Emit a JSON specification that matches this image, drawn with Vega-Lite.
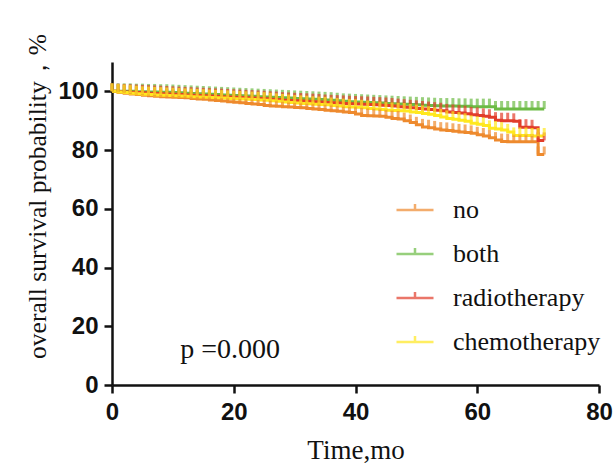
{
  "$schema": "https://vega.github.io/schema/vega-lite/v6.json",
  "width": 487,
  "height": 323,
  "autosize": {"type": "none"},
  "padding": {"left": 112, "top": 62, "right": 17, "bottom": 85},
  "background": "white",
  "config": {"view": {"stroke": null}, "axis": {"grid": false}},
  "datasets": {
    "km": [
      {"g":"no","t":0,"s":100},{"g":"no","t":1,"s":99.7},{"g":"no","t":2,"s":99.4},{"g":"no","t":3,"s":99.1},{"g":"no","t":4,"s":98.9},{"g":"no","t":5,"s":98.7},{"g":"no","t":6,"s":98.5},{"g":"no","t":7,"s":98.3},{"g":"no","t":8,"s":98.2},{"g":"no","t":9,"s":98.1},{"g":"no","t":10,"s":98.0},
      {"g":"no","t":11,"s":97.9},{"g":"no","t":12,"s":97.8},{"g":"no","t":13,"s":97.6},{"g":"no","t":14,"s":97.4},{"g":"no","t":15,"s":97.3},{"g":"no","t":16,"s":97.1},{"g":"no","t":17,"s":96.9},{"g":"no","t":18,"s":96.7},{"g":"no","t":19,"s":96.5},{"g":"no","t":20,"s":96.3},
      {"g":"no","t":21,"s":96.1},{"g":"no","t":22,"s":95.9},{"g":"no","t":23,"s":95.7},{"g":"no","t":24,"s":95.5},{"g":"no","t":25,"s":95.2},{"g":"no","t":26,"s":95.0},{"g":"no","t":27,"s":94.9},{"g":"no","t":28,"s":94.8},{"g":"no","t":29,"s":94.7},{"g":"no","t":30,"s":94.5},
      {"g":"no","t":31,"s":94.4},{"g":"no","t":32,"s":94.2},{"g":"no","t":33,"s":94.0},{"g":"no","t":34,"s":93.8},{"g":"no","t":35,"s":93.6},{"g":"no","t":36,"s":93.4},{"g":"no","t":37,"s":93.2},{"g":"no","t":38,"s":93.0},{"g":"no","t":39,"s":92.8},{"g":"no","t":40,"s":92.3},
      {"g":"no","t":41,"s":91.8},{"g":"no","t":42,"s":91.7},{"g":"no","t":43,"s":91.6},{"g":"no","t":44,"s":91.5},{"g":"no","t":45,"s":91.2},{"g":"no","t":46,"s":90.8},{"g":"no","t":47,"s":90.6},{"g":"no","t":48,"s":90.0},{"g":"no","t":49,"s":89.4},{"g":"no","t":50,"s":88.6},
      {"g":"no","t":51,"s":87.9},{"g":"no","t":52,"s":87.6},{"g":"no","t":53,"s":87.2},{"g":"no","t":54,"s":86.8},{"g":"no","t":55,"s":86.7},{"g":"no","t":56,"s":86.4},{"g":"no","t":57,"s":86.2},{"g":"no","t":58,"s":86.0},{"g":"no","t":59,"s":85.7},{"g":"no","t":60,"s":85.2},
      {"g":"no","t":61,"s":84.8},{"g":"no","t":62,"s":84.2},{"g":"no","t":63,"s":83.4},{"g":"no","t":64,"s":82.9},{"g":"no","t":65,"s":82.8},{"g":"no","t":66,"s":82.8},{"g":"no","t":67,"s":82.8},{"g":"no","t":68,"s":82.8},{"g":"no","t":69,"s":82.8},{"g":"no","t":70,"s":78.5},{"g":"no","t":71,"s":78.5},

      {"g":"both","t":0,"s":100},{"g":"both","t":1,"s":100},{"g":"both","t":2,"s":100},{"g":"both","t":3,"s":100},{"g":"both","t":4,"s":99.9},{"g":"both","t":5,"s":99.9},{"g":"both","t":6,"s":99.8},{"g":"both","t":7,"s":99.8},{"g":"both","t":8,"s":99.7},{"g":"both","t":9,"s":99.7},{"g":"both","t":10,"s":99.6},
      {"g":"both","t":11,"s":99.5},{"g":"both","t":12,"s":99.4},{"g":"both","t":13,"s":99.3},{"g":"both","t":14,"s":99.2},{"g":"both","t":15,"s":99.1},{"g":"both","t":16,"s":99.0},{"g":"both","t":17,"s":98.9},{"g":"both","t":18,"s":98.8},{"g":"both","t":19,"s":98.7},{"g":"both","t":20,"s":98.6},
      {"g":"both","t":21,"s":98.5},{"g":"both","t":22,"s":98.4},{"g":"both","t":23,"s":98.3},{"g":"both","t":24,"s":98.2},{"g":"both","t":25,"s":98.1},{"g":"both","t":26,"s":98.0},{"g":"both","t":27,"s":97.9},{"g":"both","t":28,"s":97.8},{"g":"both","t":29,"s":97.7},{"g":"both","t":30,"s":97.6},
      {"g":"both","t":31,"s":97.5},{"g":"both","t":32,"s":97.4},{"g":"both","t":33,"s":97.3},{"g":"both","t":34,"s":97.2},{"g":"both","t":35,"s":97.1},{"g":"both","t":36,"s":97.0},{"g":"both","t":37,"s":96.8},{"g":"both","t":38,"s":96.6},{"g":"both","t":39,"s":96.5},{"g":"both","t":40,"s":96.4},
      {"g":"both","t":41,"s":96.3},{"g":"both","t":42,"s":96.2},{"g":"both","t":43,"s":96.1},{"g":"both","t":44,"s":96.0},{"g":"both","t":45,"s":95.9},{"g":"both","t":46,"s":95.8},{"g":"both","t":47,"s":95.7},{"g":"both","t":48,"s":95.6},{"g":"both","t":49,"s":95.5},{"g":"both","t":50,"s":95.4},
      {"g":"both","t":51,"s":95.3},{"g":"both","t":52,"s":95.2},{"g":"both","t":53,"s":95.1},{"g":"both","t":54,"s":95.0},{"g":"both","t":55,"s":95.0},{"g":"both","t":56,"s":95.0},{"g":"both","t":57,"s":94.9},{"g":"both","t":58,"s":94.9},{"g":"both","t":59,"s":94.8},{"g":"both","t":60,"s":94.8},
      {"g":"both","t":61,"s":94.8},{"g":"both","t":62,"s":94.8},{"g":"both","t":63,"s":94.0},{"g":"both","t":64,"s":94.0},{"g":"both","t":65,"s":94.0},{"g":"both","t":66,"s":94.0},{"g":"both","t":67,"s":94.0},{"g":"both","t":68,"s":94.0},{"g":"both","t":69,"s":94.0},{"g":"both","t":70,"s":94.0},{"g":"both","t":71,"s":94.0},

      {"g":"radiotherapy","t":0,"s":100},{"g":"radiotherapy","t":1,"s":99.9},{"g":"radiotherapy","t":2,"s":99.8},{"g":"radiotherapy","t":3,"s":99.7},{"g":"radiotherapy","t":4,"s":99.6},{"g":"radiotherapy","t":5,"s":99.5},{"g":"radiotherapy","t":6,"s":99.4},{"g":"radiotherapy","t":7,"s":99.3},{"g":"radiotherapy","t":8,"s":99.2},{"g":"radiotherapy","t":9,"s":99.1},{"g":"radiotherapy","t":10,"s":99.0},
      {"g":"radiotherapy","t":11,"s":98.9},{"g":"radiotherapy","t":12,"s":98.8},{"g":"radiotherapy","t":13,"s":98.7},{"g":"radiotherapy","t":14,"s":98.6},{"g":"radiotherapy","t":15,"s":98.5},{"g":"radiotherapy","t":16,"s":98.4},{"g":"radiotherapy","t":17,"s":98.3},{"g":"radiotherapy","t":18,"s":98.2},{"g":"radiotherapy","t":19,"s":98.1},{"g":"radiotherapy","t":20,"s":98.0},
      {"g":"radiotherapy","t":21,"s":97.9},{"g":"radiotherapy","t":22,"s":97.8},{"g":"radiotherapy","t":23,"s":97.7},{"g":"radiotherapy","t":24,"s":97.6},{"g":"radiotherapy","t":25,"s":97.5},{"g":"radiotherapy","t":26,"s":97.3},{"g":"radiotherapy","t":27,"s":97.2},{"g":"radiotherapy","t":28,"s":97.0},{"g":"radiotherapy","t":29,"s":96.9},{"g":"radiotherapy","t":30,"s":96.8},
      {"g":"radiotherapy","t":31,"s":96.7},{"g":"radiotherapy","t":32,"s":96.6},{"g":"radiotherapy","t":33,"s":96.5},{"g":"radiotherapy","t":34,"s":96.4},{"g":"radiotherapy","t":35,"s":96.2},{"g":"radiotherapy","t":36,"s":96.1},{"g":"radiotherapy","t":37,"s":96.0},{"g":"radiotherapy","t":38,"s":95.9},{"g":"radiotherapy","t":39,"s":95.8},{"g":"radiotherapy","t":40,"s":95.7},
      {"g":"radiotherapy","t":41,"s":95.6},{"g":"radiotherapy","t":42,"s":95.5},{"g":"radiotherapy","t":43,"s":95.4},{"g":"radiotherapy","t":44,"s":95.3},{"g":"radiotherapy","t":45,"s":95.2},{"g":"radiotherapy","t":46,"s":95.0},{"g":"radiotherapy","t":47,"s":94.8},{"g":"radiotherapy","t":48,"s":94.6},{"g":"radiotherapy","t":49,"s":94.4},{"g":"radiotherapy","t":50,"s":94.2},
      {"g":"radiotherapy","t":51,"s":94.0},{"g":"radiotherapy","t":52,"s":93.8},{"g":"radiotherapy","t":53,"s":93.6},{"g":"radiotherapy","t":54,"s":93.4},{"g":"radiotherapy","t":55,"s":93.0},{"g":"radiotherapy","t":56,"s":92.8},{"g":"radiotherapy","t":57,"s":92.6},{"g":"radiotherapy","t":58,"s":92.4},{"g":"radiotherapy","t":59,"s":92.0},{"g":"radiotherapy","t":60,"s":91.8},
      {"g":"radiotherapy","t":61,"s":91.5},{"g":"radiotherapy","t":62,"s":91.2},{"g":"radiotherapy","t":63,"s":90.2},{"g":"radiotherapy","t":64,"s":90.0},{"g":"radiotherapy","t":65,"s":90.0},{"g":"radiotherapy","t":66,"s":89.8},{"g":"radiotherapy","t":67,"s":87.8},{"g":"radiotherapy","t":68,"s":87.8},{"g":"radiotherapy","t":69,"s":87.6},{"g":"radiotherapy","t":70,"s":83.3},{"g":"radiotherapy","t":71,"s":83.3},

      {"g":"chemotherapy","t":0,"s":100},{"g":"chemotherapy","t":1,"s":99.8},{"g":"chemotherapy","t":2,"s":99.6},{"g":"chemotherapy","t":3,"s":99.4},{"g":"chemotherapy","t":4,"s":99.2},{"g":"chemotherapy","t":5,"s":99.0},{"g":"chemotherapy","t":6,"s":98.9},{"g":"chemotherapy","t":7,"s":98.8},{"g":"chemotherapy","t":8,"s":98.7},{"g":"chemotherapy","t":9,"s":98.6},{"g":"chemotherapy","t":10,"s":98.5},
      {"g":"chemotherapy","t":11,"s":98.4},{"g":"chemotherapy","t":12,"s":98.3},{"g":"chemotherapy","t":13,"s":98.2},{"g":"chemotherapy","t":14,"s":98.1},{"g":"chemotherapy","t":15,"s":98.0},{"g":"chemotherapy","t":16,"s":97.9},{"g":"chemotherapy","t":17,"s":97.8},{"g":"chemotherapy","t":18,"s":97.7},{"g":"chemotherapy","t":19,"s":97.6},{"g":"chemotherapy","t":20,"s":97.5},
      {"g":"chemotherapy","t":21,"s":97.4},{"g":"chemotherapy","t":22,"s":97.3},{"g":"chemotherapy","t":23,"s":97.2},{"g":"chemotherapy","t":24,"s":97.1},{"g":"chemotherapy","t":25,"s":97.0},{"g":"chemotherapy","t":26,"s":96.8},{"g":"chemotherapy","t":27,"s":96.6},{"g":"chemotherapy","t":28,"s":96.4},{"g":"chemotherapy","t":29,"s":96.2},{"g":"chemotherapy","t":30,"s":96.0},
      {"g":"chemotherapy","t":31,"s":95.9},{"g":"chemotherapy","t":32,"s":95.8},{"g":"chemotherapy","t":33,"s":95.6},{"g":"chemotherapy","t":34,"s":95.5},{"g":"chemotherapy","t":35,"s":95.4},{"g":"chemotherapy","t":36,"s":95.2},{"g":"chemotherapy","t":37,"s":95.0},{"g":"chemotherapy","t":38,"s":94.8},{"g":"chemotherapy","t":39,"s":94.7},{"g":"chemotherapy","t":40,"s":94.6},
      {"g":"chemotherapy","t":41,"s":94.4},{"g":"chemotherapy","t":42,"s":94.2},{"g":"chemotherapy","t":43,"s":94.0},{"g":"chemotherapy","t":44,"s":93.8},{"g":"chemotherapy","t":45,"s":93.6},{"g":"chemotherapy","t":46,"s":93.5},{"g":"chemotherapy","t":47,"s":93.4},{"g":"chemotherapy","t":48,"s":93.3},{"g":"chemotherapy","t":49,"s":93.0},{"g":"chemotherapy","t":50,"s":92.8},
      {"g":"chemotherapy","t":51,"s":92.5},{"g":"chemotherapy","t":52,"s":92.2},{"g":"chemotherapy","t":53,"s":91.8},{"g":"chemotherapy","t":54,"s":91.3},{"g":"chemotherapy","t":55,"s":90.8},{"g":"chemotherapy","t":56,"s":90.5},{"g":"chemotherapy","t":57,"s":90.2},{"g":"chemotherapy","t":58,"s":89.8},{"g":"chemotherapy","t":59,"s":89.1},{"g":"chemotherapy","t":60,"s":88.8},
      {"g":"chemotherapy","t":61,"s":88.4},{"g":"chemotherapy","t":62,"s":87.4},{"g":"chemotherapy","t":63,"s":87.2},{"g":"chemotherapy","t":64,"s":86.8},{"g":"chemotherapy","t":65,"s":86.2},{"g":"chemotherapy","t":66,"s":85.0},{"g":"chemotherapy","t":67,"s":85.0},{"g":"chemotherapy","t":68,"s":85.0},{"g":"chemotherapy","t":69,"s":84.8},{"g":"chemotherapy","t":70,"s":84.8},{"g":"chemotherapy","t":71,"s":84.8}
    ],
    "note": [{"t": 11.2, "s": 12, "label": "p =0.000"}]
  },
  "layer": [
    {
      "data": {"name": "km"},
      "mark": {"type": "line", "interpolate": "step-after", "strokeWidth": 3},
      "encoding": {
        "x": {
          "field": "t", "type": "quantitative",
          "scale": {"domain": [0, 80], "nice": false},
          "axis": {
            "values": [0, 20, 40, 60, 80],
            "title": "Time,mo",
            "titleFont": "Liberation Serif", "titleFontSize": 27, "titleFontWeight": "normal", "titleColor": "#111",
            "titleY": 73, "titleBaseline": "alphabetic",
            "labelFont": "Liberation Sans", "labelFontSize": 24, "labelFontWeight": "bold", "labelColor": "#111",
            "labelPadding": 7, "labelFlush": false,
            "domainColor": "#111", "domainWidth": 2.5, "tickColor": "#111", "tickWidth": 2.5, "tickSize": 8
          }
        },
        "y": {
          "field": "s", "type": "quantitative",
          "scale": {"domain": [0, 110], "nice": false},
          "axis": {
            "values": [0, 20, 40, 60, 80, 100],
            "title": "overall survival probability，%",
            "titleFont": "Liberation Serif", "titleFontSize": 25.5, "titleFontWeight": "normal", "titleColor": "#111",
            "titleX": -67, "titleY": 134, "titleAngle": -90, "titleAlign": "center", "titleBaseline": "alphabetic",
            "labelFont": "Liberation Sans", "labelFontSize": 24, "labelFontWeight": "bold", "labelColor": "#111",
            "labelPadding": 6,
            "domainColor": "#111", "domainWidth": 2.5, "tickColor": "#111", "tickWidth": 2.5, "tickSize": 8
          }
        },
        "color": {
          "field": "g", "type": "nominal",
          "scale": {"domain": ["no", "both", "radiotherapy", "chemotherapy"], "range": ["#EE8A2E", "#6CBB45", "#E23D2B", "#FFE81F"]},
          "legend": {
            "title": null, "orient": "none", "legendX": 283, "legendY": 128,
            "symbolType": "M-1,0H1M0,0V-0.32", "symbolSize": 1369, "symbolStrokeWidth": 2.5, "symbolFillColor": "transparent",
            "labelFont": "Liberation Serif", "labelFontSize": 26, "labelColor": "#111", "labelOffset": 18,
            "rowPadding": 11, "padding": 0
          }
        }
      }
    },
    {
      "data": {"name": "km"},
      "mark": {"type": "tick", "orient": "vertical", "size": 8, "thickness": 3, "yOffset": -4},
      "encoding": {
        "x": {"field": "t", "type": "quantitative"},
        "y": {"field": "s", "type": "quantitative"},
        "color": {"field": "g", "type": "nominal"}
      }
    },
    {
      "data": {"name": "note"},
      "mark": {"type": "text", "align": "left", "baseline": "middle", "font": "Liberation Serif", "fontSize": 28, "color": "#111"},
      "encoding": {
        "x": {"field": "t", "type": "quantitative"},
        "y": {"field": "s", "type": "quantitative"},
        "text": {"field": "label"}
      }
    }
  ]
}
